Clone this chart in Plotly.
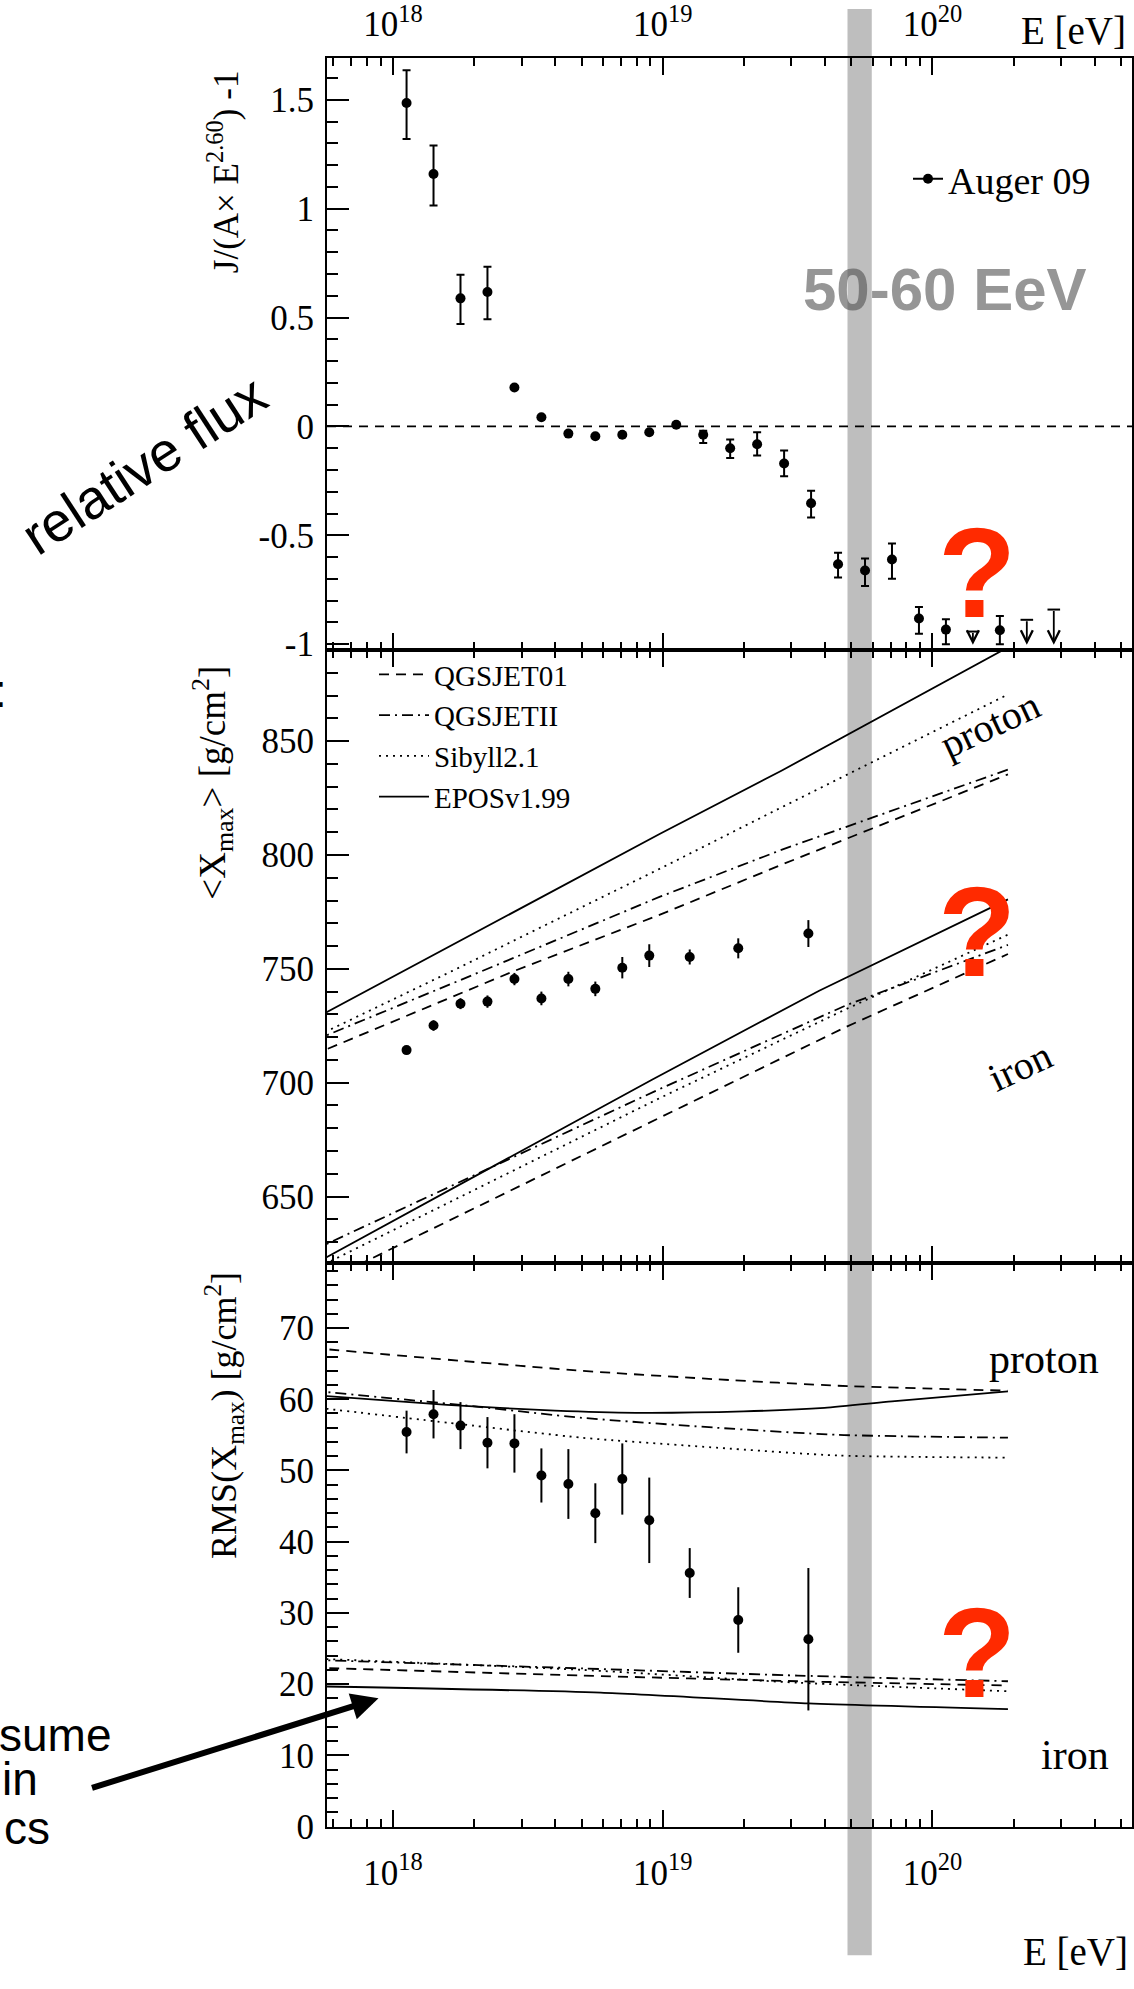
import math
import plotly.graph_objects as go

W, H = 1134, 1989

# ---------------- data (lgE = log10(E/eV)) ----------------
# relative flux, Auger 09
flux_lgE = [18.05, 18.15, 18.25, 18.35, 18.45, 18.55, 18.65, 18.75, 18.85, 18.95,
            19.05, 19.15, 19.25, 19.35, 19.45, 19.55, 19.65, 19.75, 19.85, 19.95,
            20.05, 20.25]
flux_val = [1.485, 1.159, 0.588, 0.617, 0.179, 0.042, -0.033, -0.045, -0.038, -0.027,
            0.008, -0.038, -0.100, -0.082, -0.170, -0.353, -0.633, -0.662, -0.611, -0.882,
            -0.933, -0.936]
flux_err_up = [0.151, 0.131, 0.109, 0.116, 0, 0, 0, 0, 0, 0,
               0, 0.018, 0.040, 0.055, 0.060, 0.058, 0.053, 0.056, 0.073, 0.053,
               0.048, 0.065]
flux_err_dn = [0.165, 0.144, 0.118, 0.125, 0, 0, 0, 0, 0, 0,
               0, 0.038, 0.045, 0.051, 0.059, 0.065, 0.061, 0.071, 0.089, 0.070,
               0.067, 0.064]
ul_lgE = [20.15, 20.35, 20.45]
ul_top = [-0.942, -0.888, -0.841]
ul_tip = [-1.003, -1.003, -1.003]

# <Xmax> and RMS(Xmax) data
comp_lgE = [18.05, 18.15, 18.25, 18.35, 18.45, 18.55, 18.65, 18.75, 18.85, 18.95,
            19.10, 19.28, 19.54]
xmax_val = [714.3, 725.1, 734.7, 735.6, 745.5, 737.0, 745.5, 741.2, 750.5, 755.8,
            755.2, 759.0, 765.5]
xmax_err = [1.8, 2.3, 2.4, 2.7, 2.7, 3.0, 3.2, 3.2, 4.7, 5.0, 3.3, 4.4, 5.9]
rms_val = [55.4, 57.9, 56.3, 53.9, 53.8, 49.3, 48.1, 44.0, 48.8, 43.0, 35.6, 29.0, 26.3]
rms_err = [3.0, 3.4, 3.3, 3.6, 4.1, 3.8, 4.9, 4.2, 5.0, 6.0, 3.5, 4.6, 10.0]

# <Xmax> model predictions
qgs01_p_lgE = [17.70, 18.45, 18.99, 19.45, 20.28]
qgs01_p_xmax = [712.0, 749.1, 773.8, 796.2, 835.4]
qgs2_p_lgE = [17.70, 18.33, 18.99, 19.45, 20.28]
qgs2_p_xmax = [718.2, 749.0, 781.7, 802.7, 837.5]
sib_p_lgE = [17.70, 18.22, 18.99, 19.44, 20.28]
sib_p_xmax = [719.5, 749.1, 794.0, 820.9, 870.5]
epos_p_lgE = [17.70, 18.04, 18.99, 19.44, 20.28]
epos_p_xmax = [727.6, 749.1, 809.3, 837.0, 891.2]

qgs01_fe_lgE = [17.70, 18.00, 18.99, 19.68, 20.28]
qgs01_fe_xmax = [609.9, 627.4, 684.7, 724.5, 756.5]
qgs2_fe_lgE = [17.70, 18.97, 19.68, 20.28]
qgs2_fe_xmax = [626.2, 696.2, 734.0, 760.5]
sib_fe_lgE = [17.70, 18.99, 19.68, 20.28]
sib_fe_xmax = [617.6, 693.3, 732.3, 765.0]
epos_fe_lgE = [17.70, 18.96, 19.58, 20.28]
epos_fe_xmax = [619.9, 701.3, 740.4, 780.5]

# RMS(Xmax) model predictions
p_rms_lgE = [17.70, 18.25, 18.70, 19.20, 19.65, 20.28]
qgs01_p_rms = [67.2, 65.4, 64.0, 62.8, 61.9, 61.2]
qgs2_p_rms = [61.2, 59.2, 57.4, 56.0, 55.0, 54.6]
sib_p_rms = [58.9, 56.5, 54.6, 53.2, 52.1, 51.8]
epos_p_rms_lgE = [17.70, 18.20, 18.60, 18.90, 19.30, 19.60, 19.85, 20.28]
epos_p_rms = [60.6, 59.2, 58.4, 58.1, 58.3, 58.8, 59.7, 61.1]
fe_rms_lgE = [17.70, 18.70, 19.50, 20.28]
qgs01_fe_rms = [22.3, 21.2, 20.4, 19.8]
qgs2_fe_rms = [23.4, 22.2, 21.2, 20.4]
sib_fe_rms = [23.6, 22.0, 20.2, 19.0]
epos_fe_rms_lgE = [17.70, 18.77, 19.54, 20.28]
epos_fe_rms = [19.7, 18.8, 17.3, 16.5]

model_names = ["QGSJET01", "QGSJETII", "Sibyll2.1", "EPOSv1.99"]
model_dash = ["10px,7px", "11px,5px,2px,5px", "2px,5px", "solid"]

# axis ticks
x_major = [18, 19, 20]
x_major_text = ["10<sup>18</sup>", "10<sup>19</sup>", "10<sup>20</sup>"]
flux_ticks = [-1, -0.5, 0, 0.5, 1, 1.5]
flux_ticktext = ["-1", "-0.5", "0", "0.5", "1", "1.5"]
xmax_ticks = [650, 700, 750, 800, 850]
rms_ticks = [0, 10, 20, 30, 40, 50, 60, 70]

band_lgE = [19.685, 19.775]   # 50-60 EeV

# ---------------- layout helpers ----------------
def px(x):
    return x / W

def py(y):
    return (H - y) / H

SERIF = "Liberation Serif"
SANS = "Liberation Sans"
xrange_ = [17.755, 20.74]
x_minor = [round(math.log10(m) + e, 5) for e in (17, 18, 19, 20) for m in range(2, 10)
           if xrange_[0] <= math.log10(m) + e <= xrange_[1]]

# panel pixel rows
TOP0, TOP1 = 58, 656
MID0, MID1 = 656, 1275
BOT0, BOT1 = 1275, 1845

fig = go.Figure()

# ---- top panel: relative flux ----
fig.add_trace(go.Scatter(
    x=flux_lgE, y=flux_val, mode="markers", xaxis="x", yaxis="y",
    marker=dict(color="black", size=10),
    error_y=dict(type="data", symmetric=False, array=flux_err_up, arrayminus=flux_err_dn,
                 color="black", thickness=2, width=4),
    name="Auger 09", showlegend=False, hoverinfo="skip"))
fig.add_trace(go.Scatter(
    x=ul_lgE, y=ul_top, mode="markers", xaxis="x", yaxis="y",
    marker=dict(symbol="line-ew", size=9, line=dict(color="black", width=2)),
    showlegend=False, hoverinfo="skip"))
fig.add_trace(go.Scatter(
    x=[None], y=[None], mode="lines+markers", xaxis="x", yaxis="y",
    marker=dict(color="black", size=10), line=dict(color="black", width=2),
    name="Auger 09", showlegend=True, legend="legend"))

# ---- middle panel: <Xmax> ----
p_sets = [(qgs01_p_lgE, qgs01_p_xmax), (qgs2_p_lgE, qgs2_p_xmax),
          (sib_p_lgE, sib_p_xmax), (epos_p_lgE, epos_p_xmax)]
fe_sets = [(qgs01_fe_lgE, qgs01_fe_xmax), (qgs2_fe_lgE, qgs2_fe_xmax),
           (sib_fe_lgE, sib_fe_xmax), (epos_fe_lgE, epos_fe_xmax)]
for name, dash, (xp, yp), (xf, yf) in zip(model_names, model_dash, p_sets, fe_sets):
    fig.add_trace(go.Scatter(x=xp, y=yp, mode="lines", xaxis="x2", yaxis="y2",
                             line=dict(color="black", width=1.8, dash=dash),
                             name=name, showlegend=True, legend="legend2", hoverinfo="skip"))
    fig.add_trace(go.Scatter(x=xf, y=yf, mode="lines", xaxis="x2", yaxis="y2",
                             line=dict(color="black", width=1.8, dash=dash),
                             showlegend=False, hoverinfo="skip"))
fig.add_trace(go.Scatter(
    x=comp_lgE, y=xmax_val, mode="markers", xaxis="x2", yaxis="y2",
    marker=dict(color="black", size=10),
    error_y=dict(type="data", array=xmax_err, color="black", thickness=2, width=0),
    showlegend=False, hoverinfo="skip"))

# ---- bottom panel: RMS(Xmax) ----
rp_sets = [(p_rms_lgE, qgs01_p_rms), (p_rms_lgE, qgs2_p_rms),
           (p_rms_lgE, sib_p_rms), (epos_p_rms_lgE, epos_p_rms)]
rf_sets = [(fe_rms_lgE, qgs01_fe_rms), (fe_rms_lgE, qgs2_fe_rms),
           (fe_rms_lgE, sib_fe_rms), (epos_fe_rms_lgE, epos_fe_rms)]
for dash, (xp, yp), (xf, yf) in zip(model_dash, rp_sets, rf_sets):
    for xs, ys in ((xp, yp), (xf, yf)):
        fig.add_trace(go.Scatter(x=xs, y=ys, mode="lines", xaxis="x3", yaxis="y3",
                                 line=dict(color="black", width=1.8, dash=dash, shape="spline", smoothing=0.6),
                                 showlegend=False, hoverinfo="skip"))
fig.add_trace(go.Scatter(
    x=comp_lgE, y=rms_val, mode="markers", xaxis="x3", yaxis="y3",
    marker=dict(color="black", size=10),
    error_y=dict(type="data", array=rms_err, color="black", thickness=2, width=0),
    showlegend=False, hoverinfo="skip"))

# ---------------- axes ----------------
tickfont = dict(family=SERIF, size=35, color="black")
def xaxis(side, labels, anchor, standoff):
    return dict(domain=[px(327), px(1132)], range=xrange_, showgrid=False, zeroline=False,
                showline=True, linecolor="black", linewidth=2, mirror="ticks",
                ticks="inside", ticklen=17, tickwidth=2, tickcolor="black",
                tickmode="array", tickvals=x_major, ticktext=x_major_text,
                showticklabels=labels, side=side, tickfont=tickfont,
                ticklabelstandoff=standoff,
                minor=dict(tickmode="array", tickvals=x_minor, ticks="inside", ticklen=8,
                           tickwidth=2, tickcolor="black", showgrid=False),
                anchor=anchor, fixedrange=True)

def yaxis(top, bot, rng, tv, tt, minor_vals, anchor):
    return dict(domain=[py(bot), py(top)], range=rng, showgrid=False, zeroline=False,
                showline=True, linecolor="black", linewidth=2, mirror=True,
                ticks="inside", ticklen=22, tickwidth=2, tickcolor="black",
                tickmode="array", tickvals=tv, ticktext=tt, tickfont=tickfont,
                ticklabelstandoff=4, anchor=anchor,
                minor=dict(tickmode="array", tickvals=minor_vals, ticks="inside", ticklen=11,
                           tickwidth=2, tickcolor="black", showgrid=False))

xa1 = xaxis("top", True, "y", 6)
xa2 = xaxis("bottom", False, "y2", 6)
xa3 = xaxis("bottom", True, "y3", 14)

ya1 = yaxis(TOP0, TOP1, [-1.027, 1.69], flux_ticks, flux_ticktext,
            [round(v * 0.1, 2) for v in range(-10, 17)], "x")
ya2 = yaxis(MID0, MID1, [621, 890], xmax_ticks, [str(v) for v in xmax_ticks],
            list(range(630, 891, 10)), "x2")
ya3 = yaxis(BOT0, BOT1, [0, 79.2], rms_ticks, [str(v) for v in rms_ticks],
            list(range(0, 80, 2)), "x3")

# ---------------- annotations ----------------
ann = []
def txt(x, y, text, size, family=SERIF, color="black", angle=0, xanchor="center",
        yanchor="middle", xref="paper", yref="paper"):
    ann.append(dict(x=x, y=y, xref=xref, yref=yref, text=text, showarrow=False,
                    textangle=angle, xanchor=xanchor, yanchor=yanchor,
                    font=dict(family=family, size=size, color=color)))

# axis titles
txt(px(223), py(173), "J/(A× E<sup>2.60</sup>) -1", 35, angle=-90)
txt(px(212), py(790), "&lt;X<sub>max</sub>&gt; [g/cm<sup>2</sup>]", 37, angle=-90)
txt(px(224), py(1430), "RMS(X<sub>max</sub>) [g/cm<sup>2</sup>]", 36, angle=-90)
# E [eV]
txt(px(1073), py(30), "E [eV]", 39)
txt(px(1075), py(1971), "E [eV]", 39)
# band label
txt(20.045, 0.627, "<b>50-60 EeV</b>", 60, family=SANS, color="rgba(80,80,80,0.6)",
    xref="x", yref="y")
# question marks
for xr, yr, yy in (("x", "y", -0.673), ("x2", "y2", 766.3), ("x3", "y3", 24.5)):
    txt(20.165, yy, "<b>?</b>", 128, family=SANS, color="#ff2a00", xref=xr, yref=yr)
# proton / iron labels
txt(20.215, 857.1, "proton", 40, angle=-25, xref="x2", yref="y2")
txt(20.325, 707.0, "iron", 40, angle=-25, xref="x2", yref="y2")
txt(20.412, 65.7, "proton", 42, xref="x3", yref="y3")
txt(20.527, 10.0, "iron", 42, xref="x3", yref="y3")
# slide text
txt(px(144), py(469), "relative flux", 55, family=SANS, angle=-33)
txt(px(9), py(697), ":", 46, family=SANS, xanchor="right")
txt(px(113), py(1753), "sume", 46, family=SANS, xanchor="right")
txt(px(40), py(1797), "in", 46, family=SANS, xanchor="right")
txt(px(52), py(1846), "cs", 46, family=SANS, xanchor="right")

# upper-limit arrows
for xl, yt, yb in zip(ul_lgE, ul_top, ul_tip):
    ann.append(dict(x=xl, y=yb, ax=xl, ay=yt, xref="x", yref="y", axref="x", ayref="y",
                    text="", showarrow=True, arrowhead=5, arrowsize=1.3, arrowwidth=1.8,
                    arrowcolor="black", standoff=0, startstandoff=0))
# big slide arrow
ann.append(dict(x=17.946, y=18.0, xref="x3", yref="y3", ax=-288, ay=90,
                text="", showarrow=True, arrowhead=2, arrowsize=0.9, arrowwidth=6,
                arrowcolor="black", standoff=0))

shapes = [
    dict(type="rect", xref="x", yref="paper", x0=band_lgE[0], x1=band_lgE[1],
         y0=py(1975), y1=py(8), fillcolor="#bebebe", line=dict(width=0), layer="below"),
    dict(type="line", xref="x domain", yref="y", x0=0, x1=1, y0=0, y1=0,
         line=dict(color="black", width=1.6, dash="9px,7px")),
]

fig.update_layout(
    width=W, height=H, autosize=False,
    margin=dict(l=0, r=0, t=0, b=0),
    paper_bgcolor="white", plot_bgcolor="rgba(0,0,0,0)",
    xaxis=xa1, xaxis2=xa2, xaxis3=xa3,
    yaxis=ya1, yaxis2=ya2, yaxis3=ya3,
    annotations=ann, shapes=shapes,
    legend=dict(x=px(908), y=py(180), xanchor="left", yanchor="middle",
                font=dict(family=SERIF, size=38, color="black"),
                bgcolor="rgba(0,0,0,0)", borderwidth=0, itemwidth=30),
    legend2=dict(x=px(374), y=py(655), xanchor="left", yanchor="top",
                 font=dict(family=SERIF, size=29, color="black"),
                 bgcolor="rgba(0,0,0,0)", borderwidth=0, itemwidth=50,
                 tracegroupgap=0, traceorder="normal"),
    showlegend=True,
    font=dict(family=SERIF, color="black"),
)

fig.write_html("out.html")
